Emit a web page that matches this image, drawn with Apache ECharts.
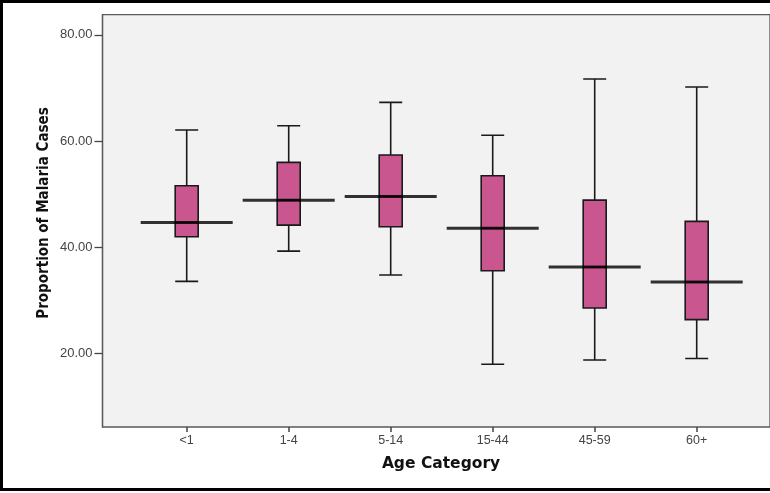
<!DOCTYPE html>
<html>
<head>
<meta charset="utf-8">
<script src="https://cdn.jsdelivr.net/npm/echarts@6/dist/echarts.min.js"></script>
<style>
html,body{margin:0;padding:0;background:#fff;}
#chart{width:770px;height:493px;}
</style>
</head>
<body>
<div id="chart"></div>
<script>
// age groups and box values
var categories = ['<1', '1-4', '5-14', '15-44', '45-59', '60+'];
var whiskerLow = [33.6, 39.3, 34.8, 18.0, 18.8, 19.1];
var q1 = [42.0, 44.2, 43.9, 35.6, 28.6, 26.4];
var median = [44.7, 48.9, 49.6, 43.6, 36.3, 33.5];
var q3 = [51.6, 56.0, 57.4, 53.5, 48.9, 44.9];
var whiskerHigh = [62.1, 62.9, 67.3, 61.1, 71.7, 70.2];
var yTicks = [20, 40, 60, 80];

var boxData = categories.map(function (c, i) {
    return [whiskerLow[i], q1[i], median[i], q3[i], whiskerHigh[i]];
});
var medianData = categories.map(function (c, i) {
    return [c, median[i]];
});

var yMin = 6.2, yMax = 83.8;
var font = '"Liberation Sans", Arial, sans-serif';

var chart = echarts.init(document.getElementById('chart'));
var option = {
    backgroundColor: '#fff',
    animation: false,
    graphic: [
        {
            type: 'rect',
            shape: {x: 1.5, y: 1.5, width: 820, height: 488},
            style: {fill: 'none', stroke: '#000', lineWidth: 3},
            z: 100
        },
        {
            type: 'text',
            rotation: Math.PI / 2,
            x: 44,
            y: 213,
            style: {
                text: 'Proportion of Malaria Cases',
                font: 'bold 15px "DejaVu Sans Condensed", "Liberation Sans Narrow", sans-serif',
                fill: '#111',
                align: 'center',
                verticalAlign: 'middle'
            }
        },
        {
            type: 'text',
            x: 441,
            y: 464,
            style: {
                text: 'Age Category',
                font: 'bold 15.5px "DejaVu Sans", sans-serif',
                fill: '#111',
                align: 'center',
                verticalAlign: 'middle'
            }
        }
    ],
    grid: [
        {
            // frame of the plot, runs off the right edge like the picture
            left: 102.5, top: 14.7, right: -30, bottom: 66,
            show: true,
            backgroundColor: '#f2f2f2',
            borderColor: '#5a5a5a',
            borderWidth: 1.3
        },
        {
            left: 135.7, top: 14.7, right: 22.3, bottom: 66
        }
    ],
    xAxis: [
        {gridIndex: 0, type: 'value', show: false, min: 0, max: 1},
        {
            gridIndex: 1,
            type: 'category',
            data: categories,
            boundaryGap: true,
            axisLine: {show: false},
            axisTick: {show: true, alignWithLabel: true, length: 5, lineStyle: {color: '#444', width: 1.5}},
            axisLabel: {color: '#444', fontSize: 12.5, fontFamily: font, margin: 7},
            splitLine: {show: false}
        }
    ],
    yAxis: [
        {
            gridIndex: 0,
            type: 'value',
            min: yMin,
            max: yMax,
            axisLine: {show: true, lineStyle: {color: '#5a5a5a', width: 1.3}},
            axisTick: {show: true, length: 8, customValues: yTicks, lineStyle: {color: '#444', width: 1.3}},
            axisLabel: {
                customValues: yTicks,
                color: '#444',
                fontSize: 13,
                fontFamily: font,
                margin: 10,
                formatter: function (v) { return v.toFixed(2); }
            },
            splitLine: {show: false}
        },
        {gridIndex: 1, type: 'value', min: yMin, max: yMax, show: false}
    ],
    series: [
        {
            type: 'boxplot',
            xAxisIndex: 1,
            yAxisIndex: 1,
            boxWidth: [23, 23],
            itemStyle: {color: '#c9568f', borderColor: '#1a1a1a', borderWidth: 1.6},
            data: boxData,
            z: 3
        },
        {
            type: 'scatter',
            xAxisIndex: 1,
            yAxisIndex: 1,
            symbol: 'rect',
            symbolSize: [92, 3],
            itemStyle: {color: '#000'},
            data: medianData,
            z: 5
        }
    ]
};
chart.setOption(option);
</script>
</body>
</html>
